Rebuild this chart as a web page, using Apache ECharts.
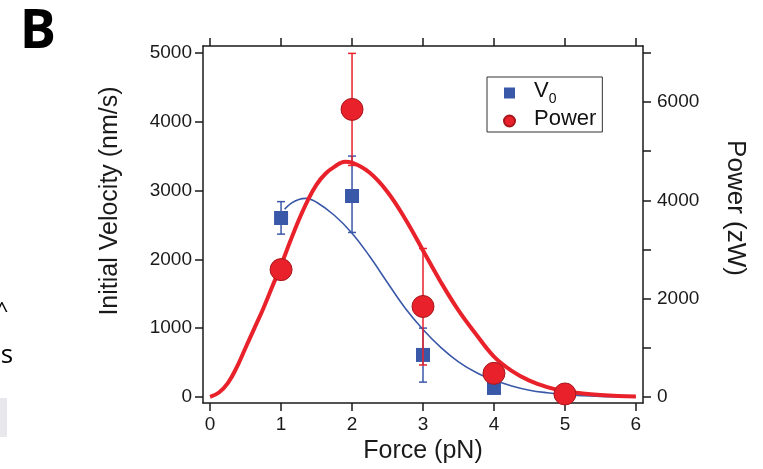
<!DOCTYPE html>
<html>
<head>
<meta charset="utf-8">
<script src="https://cdn.jsdelivr.net/npm/echarts@6/dist/echarts.min.js"></script>
<style>
html,body{margin:0;padding:0;background:#fff;}
#chart{width:763px;height:469px;}
</style>
</head>
<body>
<div id="chart"></div>
<script>
// ---- data ----
const force = [1, 2, 3, 4, 5];
const v0 = [2600, 2920, 610, 130, 30];
const v0Low = [2366, 2390, 215, 80, 10];
const v0High = [2838, 3500, 1000, 180, 50];
const power = [2590, 5850, 1840, 480, 60];
const powerLow = [2440, 4710, 650, 380, 20];
const powerHigh = [2740, 6990, 3020, 580, 100];

const powerFitX = [0, 0.125, 0.25, 0.375, 0.5, 0.625, 0.75, 0.875, 1, 1.125, 1.25, 1.375, 1.5, 1.625, 1.75, 1.9, 2, 2.25, 2.5, 2.75, 3, 3.25, 3.5, 3.75, 4, 4.25, 4.5, 4.75, 5, 5.25, 5.5, 5.75, 6];
const powerFitY = [0, 90, 280, 600, 1000, 1400, 1800, 2240, 2680, 3150, 3600, 3995, 4320, 4540, 4680, 4785, 4765, 4560, 4170, 3620, 2980, 2340, 1760, 1270, 820, 530, 330, 200, 115, 70, 40, 20, 10];
const v0FitX = [1.05, 1.15, 1.25, 1.35, 1.5, 1.75, 2, 2.25, 2.5, 2.75, 3, 3.25, 3.5, 3.75, 4, 4.25, 4.5, 4.75, 5, 5.25, 5.5, 5.75, 6];
const v0FitY = [2730, 2820, 2870, 2885, 2830, 2640, 2380, 2040, 1660, 1290, 980, 720, 510, 355, 245, 160, 98, 60, 33, 17, 8, 4, 2];

const xTicks = [0, 1, 2, 3, 4, 5, 6];
const leftTicks = [0, 1000, 2000, 3000, 4000, 5000];
const rightTicks = [0, 1000, 2000, 3000, 4000, 5000, 6000, 7000];
const rightLabels = [0, 2000, 4000, 6000];

const BLUE = '#3a58a8';
const RED = '#e8212a';
const FONT = 'Liberation Sans, Arial, sans-serif';

const chart = echarts.init(document.getElementById('chart'));

function errRenderer(color) {
  return function (params, api) {
    const x = api.value(0), lo = api.value(1), hi = api.value(2);
    const a = api.coord([x, lo]);
    const b = api.coord([x, hi]);
    const hw = 4;
    const st = { stroke: color, lineWidth: 1.5 };
    return {
      type: 'group',
      children: [
        { type: 'line', shape: { x1: a[0], y1: a[1], x2: b[0], y2: b[1] }, style: st },
        { type: 'line', shape: { x1: a[0] - hw, y1: a[1], x2: a[0] + hw, y2: a[1] }, style: st },
        { type: 'line', shape: { x1: b[0] - hw, y1: b[1], x2: b[0] + hw, y2: b[1] }, style: st }
      ]
    };
  };
}

const axisLine = { show: true, onZero: false, lineStyle: { color: '#1a1a1a', width: 1.5 } };
const tickStyle = { color: '#1a1a1a', width: 1.5 };
const labelStyle = { color: '#1a1a1a', fontSize: 19, fontFamily: FONT, formatter: function (v) { return String(v); } };

const option = {
  backgroundColor: '#fff',
  animation: false,
  grid: { left: 203, right: 120, top: 46, bottom: 64 },
  legend: {
    left: 487, top: 77,
    orient: 'vertical',
    data: ['V0', 'Power'],
    borderColor: '#333', borderWidth: 1,
    padding: [3, 6, 2, 16],
    itemGap: 2,
    itemWidth: 11, itemHeight: 11,
    formatter: function (n) { return n === 'V0' ? '{v|V}{s|0}' : '{v|Power}'; },
    textStyle: {
      color: '#111', fontFamily: FONT, fontSize: 22, padding: [0, 0, 0, 14],
      rich: {
        v: { fontSize: 22, fontFamily: FONT, color: '#111', padding: [0, 0, 4, 0], verticalAlign: 'bottom' },
        s: { fontSize: 14, fontFamily: FONT, color: '#111', verticalAlign: 'bottom' }
      }
    }
  },
  xAxis: [
    {
      type: 'value', position: 'bottom', min: -0.1, max: 6.1,
      name: 'Force (pN)', nameLocation: 'middle', nameGap: 32,
      nameTextStyle: { fontSize: 25, fontFamily: FONT, color: '#1a1a1a' },
      axisLine: axisLine,
      axisTick: { show: true, inside: false, length: 8, lineStyle: tickStyle, customValues: xTicks },
      axisLabel: { show: true, margin: 12, customValues: xTicks, ...labelStyle },
      splitLine: { show: false }
    },
    {
      type: 'value', position: 'top', min: -0.1, max: 6.1,
      axisLine: axisLine,
      axisTick: { show: true, inside: false, length: 8, lineStyle: tickStyle, customValues: xTicks },
      axisLabel: { show: false },
      splitLine: { show: false }
    }
  ],
  yAxis: [
    {
      type: 'value', position: 'left', min: -90, max: 5100,
      axisLine: axisLine,
      axisTick: { show: true, inside: false, length: 8, lineStyle: tickStyle, customValues: leftTicks },
      axisLabel: { show: true, margin: 11, customValues: leftTicks, ...labelStyle },
      splitLine: { show: false }
    },
    {
      type: 'value', position: 'right', min: -126, max: 7140,
      axisLine: axisLine,
      axisTick: { show: true, inside: false, length: 8, lineStyle: tickStyle, customValues: rightTicks },
      axisLabel: { show: true, margin: 14, customValues: rightLabels, ...labelStyle },
      splitLine: { show: false }
    }
  ],
  graphic: [
    { type: 'text', x: 110, y: 201, rotation: Math.PI / 2,
      style: { text: 'Initial Velocity (nm/s)', fontSize: 25, fontFamily: FONT, fill: '#1a1a1a', textAlign: 'center', textVerticalAlign: 'middle' } },
    { type: 'text', x: 735, y: 208, rotation: -Math.PI / 2,
      style: { text: 'Power (zW)', fontSize: 26, fontFamily: FONT, fill: '#1a1a1a', textAlign: 'center', textVerticalAlign: 'middle' } },
    { type: 'text', x: 38, y: 33,
      style: { text: 'B', fontSize: 54, fontWeight: 'bold', fontFamily: 'Open Sans, DejaVu Sans, sans-serif', fill: '#000', textAlign: 'center', textVerticalAlign: 'middle' } },
    { type: 'text', x: 7, y: 356,
      style: { text: 's', fontSize: 26, fontFamily: 'Open Sans, sans-serif', fill: '#000', textAlign: 'center', textVerticalAlign: 'middle' } },
    { type: 'text', x: 2, y: 312,
      style: { text: '^', fontSize: 22, fontFamily: 'Open Sans, sans-serif', fill: '#000', textAlign: 'center', textVerticalAlign: 'middle' } },
    { type: 'rect', shape: { x: 0, y: 398, width: 7, height: 39 }, style: { fill: '#e8e8ec' } }
  ],
  series: [
    {
      name: 'V0 fit', type: 'line', xAxisIndex: 0, yAxisIndex: 0, smooth: 0.4,
      showSymbol: false, symbol: 'none', z: 2,
      lineStyle: { color: BLUE, width: 1.6 },
      data: v0FitX.map((x, i) => [x, v0FitY[i]])
    },
    {
      name: 'V0 err', type: 'custom', xAxisIndex: 0, yAxisIndex: 0, z: 3,
      renderItem: errRenderer(BLUE),
      encode: { x: 0, y: [1, 2] },
      data: force.map((f, i) => [f, v0Low[i], v0High[i]])
    },
    {
      name: 'V0', type: 'scatter', xAxisIndex: 0, yAxisIndex: 0, z: 4,
      symbol: 'rect', symbolSize: 14,
      itemStyle: { color: BLUE, opacity: 1 },
      data: force.map((f, i) => [f, v0[i]])
    },
    {
      name: 'Power fit', type: 'line', xAxisIndex: 0, yAxisIndex: 1, smooth: 0.4,
      showSymbol: false, symbol: 'none', z: 5,
      lineStyle: { color: RED, width: 4 },
      data: powerFitX.map((x, i) => [x, powerFitY[i]])
    },
    {
      name: 'Power err', type: 'custom', xAxisIndex: 0, yAxisIndex: 1, z: 6,
      renderItem: errRenderer(RED),
      encode: { x: 0, y: [1, 2] },
      data: force.map((f, i) => [f, powerLow[i], powerHigh[i]])
    },
    {
      name: 'Power', type: 'scatter', xAxisIndex: 0, yAxisIndex: 1, z: 7,
      symbol: 'circle', symbolSize: 22,
      itemStyle: { color: RED, borderColor: '#a8161c', borderWidth: 1, opacity: 1 },
      data: force.map((f, i) => [f, power[i]])
    }
  ]
};
chart.setOption(option);
</script>
</body>
</html>
